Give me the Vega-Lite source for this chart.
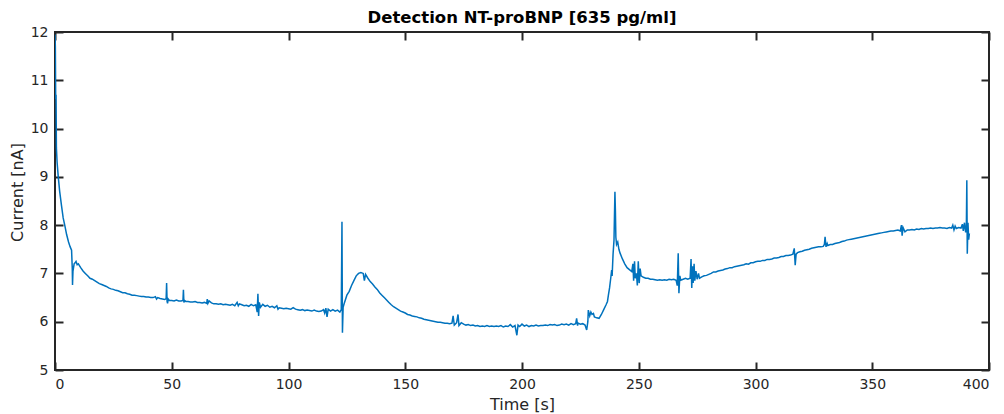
{
"$schema": "https://vega.github.io/schema/vega-lite/v6.json",
"autosize": {"type": "none"},
"width": 934,
"height": 338,
"padding": {"left": 55, "top": 32, "right": 15, "bottom": 44},
"background": "white",
"title": {"text": "Detection NT-proBNP [635 pg/ml]", "font": "DejaVu Sans", "fontSize": 16.5, "fontWeight": "bold", "color": "#000000", "anchor": "middle", "offset": -1},
"config": {
  "view": {"stroke": "#262626", "strokeWidth": 2},
  "axis": {"domain": false, "offset": -8, "tickColor": "#262626", "tickWidth": 2, "tickSize": 8, "labelFont": "DejaVu Sans", "labelFontSize": 14, "labelColor": "#262626", "titleFont": "DejaVu Sans", "titleFontSize": 16, "titleFontWeight": "normal", "titleColor": "#262626", "grid": false, "labelPadding": 7}
},
"data": {"values": [
{"t":0,"v":11.95},{"t":0.15,"v":11.7},{"t":0.3,"v":10.6},{"t":0.45,"v":10.7},{"t":0.6,"v":9.6},{"t":0.9,"v":9.3},{"t":1.4,"v":9.0},{"t":2,"v":8.7},{"t":2.8,"v":8.4},{"t":3.5,"v":8.15},{"t":4.3,"v":7.97},{"t":5,"v":7.8},{"t":5.8,"v":7.65},{"t":6.5,"v":7.55},{"t":7.1,"v":7.48},{"t":7.4,"v":7.1},{"t":7.5,"v":6.76},{"t":7.7,"v":7.05},{"t":8.2,"v":7.2},{"t":8.6,"v":7.22},{"t":9,"v":7.25},{"t":9.5,"v":7.18},{"t":10,"v":7.2},{"t":11,"v":7.12},{"t":12,"v":7.05},{"t":13,"v":7.0},{"t":14,"v":6.95},{"t":15,"v":6.9},{"t":16,"v":6.88},{"t":17,"v":6.85},{"t":18,"v":6.82},{"t":19,"v":6.79},{"t":20,"v":6.77},{"t":21,"v":6.75},{"t":22,"v":6.73},{"t":23,"v":6.7},{"t":24,"v":6.68},{"t":25,"v":6.67},{"t":26,"v":6.65},{"t":27,"v":6.64},{"t":28,"v":6.62},{"t":29,"v":6.6},{"t":30,"v":6.6},{"t":31,"v":6.58},{"t":32,"v":6.57},{"t":33,"v":6.55},{"t":34,"v":6.55},{"t":35,"v":6.54},{"t":36,"v":6.53},{"t":37,"v":6.52},{"t":38,"v":6.52},{"t":39,"v":6.51},{"t":40,"v":6.51},{"t":41,"v":6.5},{"t":42,"v":6.5},{"t":43,"v":6.52},{"t":43.5,"v":6.47},{"t":44,"v":6.5},{"t":45,"v":6.48},{"t":46,"v":6.47},{"t":47,"v":6.46},{"t":47.6,"v":6.48},{"t":47.8,"v":6.8},{"t":48,"v":6.42},{"t":48.2,"v":6.38},{"t":48.5,"v":6.47},{"t":49,"v":6.44},{"t":50,"v":6.44},{"t":51,"v":6.43},{"t":52,"v":6.45},{"t":53,"v":6.43},{"t":54,"v":6.43},{"t":54.8,"v":6.44},{"t":55,"v":6.66},{"t":55.2,"v":6.4},{"t":55.5,"v":6.44},{"t":56,"v":6.42},{"t":57,"v":6.42},{"t":58,"v":6.41},{"t":59,"v":6.41},{"t":60,"v":6.42},{"t":61,"v":6.4},{"t":62,"v":6.4},{"t":63,"v":6.39},{"t":64,"v":6.4},{"t":65,"v":6.38},{"t":65.2,"v":6.47},{"t":65.5,"v":6.38},{"t":66,"v":6.43},{"t":67,"v":6.39},{"t":68,"v":6.37},{"t":69,"v":6.37},{"t":70,"v":6.36},{"t":71,"v":6.37},{"t":72,"v":6.35},{"t":73,"v":6.36},{"t":74,"v":6.35},{"t":75,"v":6.34},{"t":76,"v":6.36},{"t":77,"v":6.33},{"t":78,"v":6.4},{"t":78.5,"v":6.33},{"t":79,"v":6.37},{"t":80,"v":6.35},{"t":81,"v":6.33},{"t":82,"v":6.34},{"t":83,"v":6.32},{"t":84,"v":6.36},{"t":85,"v":6.33},{"t":86,"v":6.35},{"t":86.6,"v":6.2},{"t":86.9,"v":6.58},{"t":87.2,"v":6.12},{"t":87.5,"v":6.4},{"t":88,"v":6.3},{"t":89,"v":6.36},{"t":90,"v":6.32},{"t":91,"v":6.34},{"t":92,"v":6.3},{"t":93,"v":6.32},{"t":94,"v":6.29},{"t":95,"v":6.33},{"t":95.5,"v":6.26},{"t":96,"v":6.29},{"t":97,"v":6.28},{"t":98,"v":6.27},{"t":99,"v":6.28},{"t":100,"v":6.27},{"t":101,"v":6.26},{"t":102,"v":6.29},{"t":103,"v":6.26},{"t":104,"v":6.25},{"t":105,"v":6.24},{"t":106,"v":6.25},{"t":107,"v":6.23},{"t":108,"v":6.24},{"t":109,"v":6.23},{"t":110,"v":6.22},{"t":111,"v":6.24},{"t":112,"v":6.22},{"t":113,"v":6.21},{"t":114,"v":6.22},{"t":115,"v":6.25},{"t":115.5,"v":6.18},{"t":116,"v":6.28},{"t":116.5,"v":6.1},{"t":117,"v":6.26},{"t":118,"v":6.22},{"t":119,"v":6.25},{"t":120,"v":6.22},{"t":121,"v":6.24},{"t":122,"v":6.2},{"t":122.6,"v":6.25},{"t":122.9,"v":8.07},{"t":123.1,"v":5.77},{"t":123.4,"v":6.3},{"t":124,"v":6.4},{"t":125,"v":6.55},{"t":126,"v":6.63},{"t":127,"v":6.75},{"t":128,"v":6.85},{"t":129,"v":6.95},{"t":130,"v":7.0},{"t":131,"v":7.02},{"t":132,"v":7.0},{"t":132.5,"v":6.85},{"t":133,"v":6.98},{"t":134,"v":6.9},{"t":135,"v":6.83},{"t":136,"v":6.78},{"t":137,"v":6.72},{"t":138,"v":6.67},{"t":139,"v":6.6},{"t":140,"v":6.55},{"t":141,"v":6.5},{"t":142,"v":6.45},{"t":143,"v":6.4},{"t":144,"v":6.35},{"t":145,"v":6.31},{"t":146,"v":6.28},{"t":147,"v":6.25},{"t":148,"v":6.22},{"t":149,"v":6.2},{"t":150,"v":6.18},{"t":151,"v":6.15},{"t":152,"v":6.14},{"t":153,"v":6.12},{"t":154,"v":6.11},{"t":155,"v":6.1},{"t":156,"v":6.08},{"t":157,"v":6.07},{"t":158,"v":6.05},{"t":159,"v":6.04},{"t":160,"v":6.03},{"t":161,"v":6.02},{"t":162,"v":6.01},{"t":163,"v":6.0},{"t":164,"v":5.99},{"t":165,"v":5.99},{"t":166,"v":5.98},{"t":167,"v":5.97},{"t":168,"v":5.97},{"t":169,"v":5.96},{"t":170,"v":5.97},{"t":170.5,"v":6.12},{"t":171,"v":5.93},{"t":172,"v":5.98},{"t":172.6,"v":6.15},{"t":173,"v":5.92},{"t":174,"v":5.98},{"t":175,"v":5.95},{"t":176,"v":5.93},{"t":177,"v":5.94},{"t":178,"v":5.92},{"t":179,"v":5.93},{"t":180,"v":5.91},{"t":181,"v":5.92},{"t":182,"v":5.9},{"t":183,"v":5.91},{"t":184,"v":5.9},{"t":185,"v":5.92},{"t":186,"v":5.9},{"t":187,"v":5.91},{"t":188,"v":5.9},{"t":189,"v":5.91},{"t":190,"v":5.9},{"t":191,"v":5.92},{"t":192,"v":5.89},{"t":193,"v":5.91},{"t":194,"v":5.9},{"t":195,"v":5.94},{"t":196,"v":5.89},{"t":197,"v":5.92},{"t":197.8,"v":5.72},{"t":198.3,"v":5.93},{"t":199,"v":5.9},{"t":200,"v":5.95},{"t":201,"v":5.91},{"t":202,"v":5.93},{"t":203,"v":5.9},{"t":204,"v":5.92},{"t":205,"v":5.91},{"t":206,"v":5.93},{"t":207,"v":5.91},{"t":208,"v":5.92},{"t":209,"v":5.92},{"t":210,"v":5.93},{"t":211,"v":5.92},{"t":212,"v":5.94},{"t":213,"v":5.93},{"t":214,"v":5.94},{"t":215,"v":5.92},{"t":216,"v":5.93},{"t":217,"v":5.95},{"t":218,"v":5.94},{"t":219,"v":5.95},{"t":220,"v":5.93},{"t":221,"v":5.96},{"t":222,"v":5.94},{"t":223,"v":5.96},{"t":223.4,"v":6.07},{"t":223.8,"v":5.92},{"t":224,"v":5.97},{"t":225,"v":5.95},{"t":226,"v":5.96},{"t":227,"v":5.93},{"t":227.7,"v":5.83},{"t":228.2,"v":6.0},{"t":228.4,"v":6.24},{"t":229,"v":6.12},{"t":229.5,"v":6.2},{"t":230,"v":6.15},{"t":230.6,"v":6.17},{"t":231,"v":6.1},{"t":232,"v":6.08},{"t":233,"v":6.07},{"t":234,"v":6.15},{"t":235,"v":6.25},{"t":236,"v":6.35},{"t":236.6,"v":6.42},{"t":237,"v":6.55},{"t":237.5,"v":6.7},{"t":238,"v":6.9},{"t":238.4,"v":7.07},{"t":238.6,"v":6.95},{"t":239,"v":7.4},{"t":239.4,"v":7.69},{"t":239.6,"v":8.2},{"t":239.8,"v":8.69},{"t":240,"v":8.3},{"t":240.2,"v":7.75},{"t":240.5,"v":7.6},{"t":241,"v":7.65},{"t":241.5,"v":7.5},{"t":242,"v":7.42},{"t":243,"v":7.3},{"t":244,"v":7.2},{"t":245,"v":7.12},{"t":246,"v":7.08},{"t":247,"v":7.04},{"t":247.5,"v":7.2},{"t":247.8,"v":6.85},{"t":248.2,"v":7.25},{"t":248.5,"v":6.9},{"t":249,"v":7.0},{"t":249.4,"v":6.75},{"t":249.8,"v":7.25},{"t":250.2,"v":6.8},{"t":250.6,"v":7.1},{"t":251,"v":6.95},{"t":252,"v":6.92},{"t":253,"v":6.9},{"t":254,"v":6.9},{"t":255,"v":6.88},{"t":256,"v":6.88},{"t":257,"v":6.87},{"t":258,"v":6.86},{"t":259,"v":6.87},{"t":260,"v":6.86},{"t":261,"v":6.87},{"t":262,"v":6.86},{"t":263,"v":6.88},{"t":264,"v":6.87},{"t":265,"v":6.88},{"t":266,"v":6.86},{"t":266.5,"v":6.75},{"t":266.9,"v":7.42},{"t":267.2,"v":6.59},{"t":267.6,"v":6.95},{"t":268,"v":6.86},{"t":269,"v":6.88},{"t":270,"v":6.9},{"t":271,"v":6.88},{"t":272,"v":6.9},{"t":272.4,"v":7.3},{"t":272.7,"v":6.7},{"t":273,"v":7.15},{"t":273.3,"v":6.8},{"t":273.7,"v":7.2},{"t":274,"v":6.85},{"t":274.5,"v":7.05},{"t":275,"v":6.88},{"t":275.6,"v":7.0},{"t":276,"v":6.9},{"t":277,"v":6.93},{"t":278,"v":6.95},{"t":279,"v":6.96},{"t":280,"v":6.98},{"t":281,"v":7.0},{"t":282,"v":7.03},{"t":283,"v":7.03},{"t":284,"v":7.05},{"t":285,"v":7.06},{"t":286,"v":7.07},{"t":287,"v":7.09},{"t":288,"v":7.1},{"t":289,"v":7.12},{"t":290,"v":7.12},{"t":291,"v":7.14},{"t":292,"v":7.15},{"t":293,"v":7.16},{"t":294,"v":7.17},{"t":295,"v":7.18},{"t":296,"v":7.2},{"t":297,"v":7.19},{"t":298,"v":7.22},{"t":299,"v":7.22},{"t":300,"v":7.24},{"t":301,"v":7.25},{"t":302,"v":7.25},{"t":303,"v":7.27},{"t":304,"v":7.27},{"t":305,"v":7.29},{"t":306,"v":7.29},{"t":307,"v":7.3},{"t":308,"v":7.32},{"t":309,"v":7.32},{"t":310,"v":7.33},{"t":311,"v":7.35},{"t":312,"v":7.35},{"t":313,"v":7.37},{"t":314,"v":7.37},{"t":315,"v":7.38},{"t":316,"v":7.4},{"t":316.6,"v":7.52},{"t":317,"v":7.17},{"t":317.4,"v":7.4},{"t":318,"v":7.43},{"t":319,"v":7.45},{"t":320,"v":7.46},{"t":321,"v":7.48},{"t":322,"v":7.49},{"t":323,"v":7.5},{"t":324,"v":7.52},{"t":325,"v":7.53},{"t":326,"v":7.54},{"t":327,"v":7.55},{"t":328,"v":7.55},{"t":329,"v":7.56},{"t":329.5,"v":7.6},{"t":329.8,"v":7.76},{"t":330.2,"v":7.55},{"t":330.7,"v":7.62},{"t":331,"v":7.58},{"t":332,"v":7.6},{"t":333,"v":7.6},{"t":334,"v":7.62},{"t":335,"v":7.63},{"t":336,"v":7.64},{"t":337,"v":7.66},{"t":338,"v":7.67},{"t":339,"v":7.69},{"t":340,"v":7.7},{"t":341,"v":7.71},{"t":342,"v":7.72},{"t":343,"v":7.73},{"t":344,"v":7.74},{"t":345,"v":7.75},{"t":346,"v":7.76},{"t":347,"v":7.77},{"t":348,"v":7.78},{"t":349,"v":7.79},{"t":350,"v":7.8},{"t":351,"v":7.81},{"t":352,"v":7.82},{"t":353,"v":7.83},{"t":354,"v":7.84},{"t":355,"v":7.85},{"t":356,"v":7.86},{"t":357,"v":7.87},{"t":358,"v":7.88},{"t":359,"v":7.88},{"t":360,"v":7.89},{"t":361,"v":7.9},{"t":362,"v":7.88},{"t":362.5,"v":8.0},{"t":362.8,"v":7.78},{"t":363.2,"v":7.95},{"t":364,"v":7.86},{"t":365,"v":7.9},{"t":366,"v":7.9},{"t":367,"v":7.91},{"t":368,"v":7.9},{"t":369,"v":7.92},{"t":370,"v":7.91},{"t":371,"v":7.93},{"t":372,"v":7.92},{"t":373,"v":7.93},{"t":374,"v":7.93},{"t":375,"v":7.94},{"t":376,"v":7.93},{"t":377,"v":7.94},{"t":378,"v":7.94},{"t":379,"v":7.95},{"t":380,"v":7.94},{"t":381,"v":7.94},{"t":382,"v":7.93},{"t":383,"v":7.95},{"t":384,"v":7.94},{"t":384.5,"v":8.0},{"t":385,"v":7.9},{"t":385.5,"v":7.98},{"t":386,"v":7.93},{"t":387,"v":7.95},{"t":388,"v":7.94},{"t":388.6,"v":8.02},{"t":389,"v":7.88},{"t":389.5,"v":8.05},{"t":390,"v":7.85},{"t":390.3,"v":7.95},{"t":390.5,"v":8.93},{"t":390.7,"v":7.41},{"t":391,"v":8.05},{"t":391.3,"v":7.7},{"t":391.6,"v":7.83}
]},
"layer": [
  {
    "mark": {"type": "line", "color": "#0072BD", "strokeWidth": 1.5, "clip": true},
    "encoding": {
      "x": {"field": "t", "type": "quantitative", "scale": {"domain": [0, 400], "nice": false, "zero": false}, "axis": {"orient": "bottom", "values": [0,50,100,150,200,250,300,350,400], "title": "Time [s]", "titlePadding": 5}},
      "y": {"field": "v", "type": "quantitative", "scale": {"domain": [5, 12], "nice": false, "zero": false}, "axis": {"orient": "left", "values": [5,6,7,8,9,10,11,12], "title": "Current [nA]", "titleX": -38, "titleY": 160}}
    }
  },
  {
    "mark": {"type": "line", "opacity": 0},
    "encoding": {
      "x": {"field": "t", "type": "quantitative", "axis": {"orient": "top", "values": [0,50,100,150,200,250,300,350,400], "labels": false, "title": null}},
      "y": {"field": "v", "type": "quantitative", "axis": {"orient": "right", "values": [5,6,7,8,9,10,11,12], "labels": false, "title": null}}
    }
  }
],
"resolve": {"axis": {"x": "independent", "y": "independent"}}
}
